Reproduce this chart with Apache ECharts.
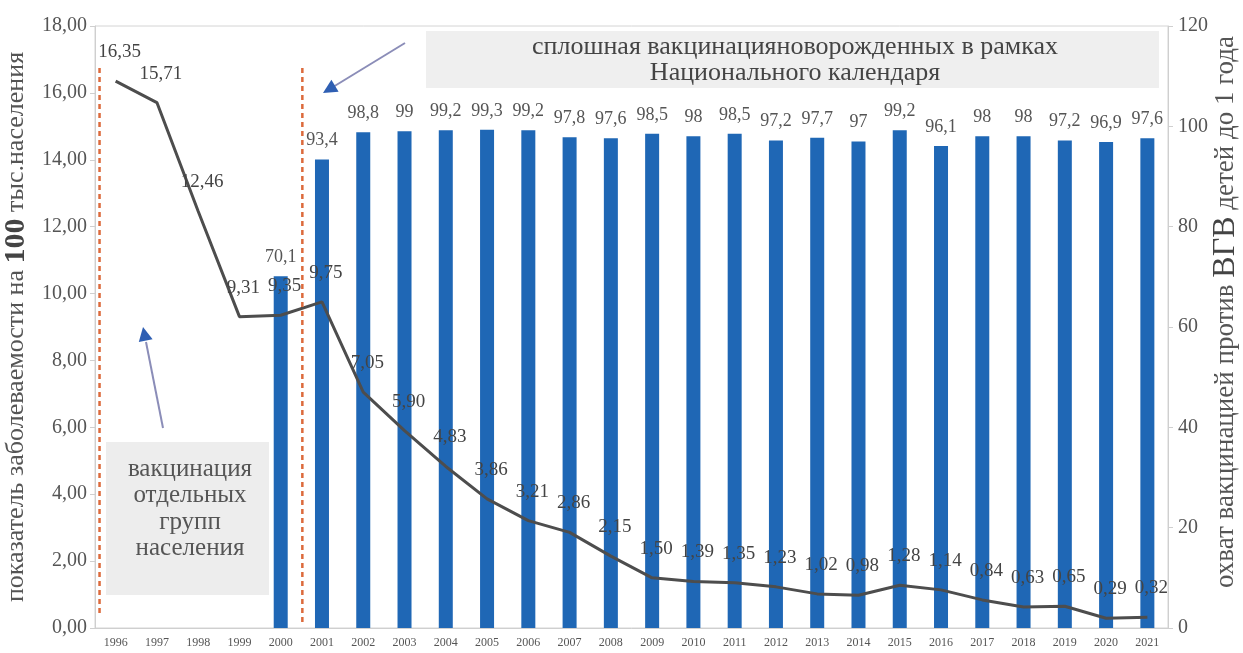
<!DOCTYPE html>
<html>
<head>
<meta charset="utf-8">
<script src="https://cdn.jsdelivr.net/npm/echarts@6/dist/echarts.min.js"></script>
<style>
  html, body { margin: 0; padding: 0; background: #fff; }
  #chart { width: 1243px; height: 653px; }
</style>
</head>
<body>
<div id="chart"></div>
<script>
// Годы наблюдения
const years = ['1996','1997','1998','1999','2000','2001','2002','2003','2004','2005','2006','2007','2008',
  '2009','2010','2011','2012','2013','2014','2015','2016','2017','2018','2019','2020','2021'];

// Заболеваемость на 100 тыс. населения (левая ось)
const incidence = [16.35, 15.71, 12.46, 9.31, 9.35, 9.75, 7.05, 5.90, 4.83, 3.86, 3.21, 2.86, 2.15,
  1.50, 1.39, 1.35, 1.23, 1.02, 0.98, 1.28, 1.14, 0.84, 0.63, 0.65, 0.29, 0.32];

// Охват вакцинацией детей до 1 года, % (правая ось); до 2000 г. данных нет
const coverage = [null, null, null, null, 70.1, 93.4, 98.8, 99, 99.2, 99.3, 99.2, 97.8, 97.6,
  98.5, 98, 98.5, 97.2, 97.7, 97, 99.2, 96.1, 98, 98, 97.2, 96.9, 97.6];

// Деления осей
const leftTicks = { min: 0, max: 18, interval: 2 };
const rightTicks = { min: 0, max: 120, interval: 20 };

const SERIF = '"Liberation Serif", "Times New Roman", serif';
const comma = s => String(s).replace('.', ',');

const chart = echarts.init(document.getElementById('chart'), null, { renderer: 'canvas' });

const option = {
  backgroundColor: '#ffffff',
  animation: false,
  grid: {
    left: 95, right: 75, top: 26, bottom: 25,
    containLabel: false, outerBoundsMode: 'none',
    show: true, borderColor: '#d4d4d4', borderWidth: 1, backgroundColor: 'transparent'
  },
  xAxis: {
    type: 'category',
    data: years,
    boundaryGap: true,
    axisLine: { lineStyle: { color: '#cfcfcf' } },
    axisTick: { show: false },
    axisLabel: { fontFamily: SERIF, fontSize: 12, color: '#555', margin: 9, interval: 0 }
  },
  yAxis: [
    {
      type: 'value',
      min: leftTicks.min, max: leftTicks.max, interval: leftTicks.interval,
      splitLine: { show: false },
      axisLine: { show: true, lineStyle: { color: '#cfcfcf' } },
      axisTick: { show: true, length: 5, lineStyle: { color: '#cfcfcf' } },
      axisLabel: {
        fontFamily: SERIF, fontSize: 20, color: '#555', margin: 8,
        formatter: v => v.toFixed(2).replace('.', ',')
      },
      name: '{a|показатель заболеваемости на }{b|100}{a| тыс.населения}',
      nameLocation: 'middle',
      nameGap: 64,
      nameTextStyle: {
        rich: {
          a: { fontFamily: SERIF, fontSize: 26, color: '#555' },
          b: { fontFamily: SERIF, fontSize: 30, color: '#444', fontWeight: 'bold' }
        }
      }
    },
    {
      type: 'value',
      min: rightTicks.min, max: rightTicks.max, interval: rightTicks.interval,
      splitLine: { show: false },
      axisLine: { show: true, lineStyle: { color: '#cfcfcf' } },
      axisTick: { show: true, length: 5, lineStyle: { color: '#cfcfcf' } },
      axisLabel: { fontFamily: SERIF, fontSize: 20, color: '#555', margin: 10 }
    }
  ],
  series: [
    {
      name: 'охват вакцинацией',
      type: 'bar',
      yAxisIndex: 1,
      data: coverage,
      barWidth: 14,
      itemStyle: { color: '#1f67b5' },
      label: {
        show: true, position: 'top', distance: 10,
        fontFamily: SERIF, fontSize: 18, color: '#555',
        formatter: p => comma(p.value)
      },
      z: 2
    },
    {
      name: 'заболеваемость',
      type: 'line',
      yAxisIndex: 0,
      data: incidence,
      symbol: 'circle',
      symbolSize: 1,
      showSymbol: true,
      itemStyle: { color: 'rgba(0,0,0,0)' },
      lineStyle: { color: '#4d4d4d', width: 3 },
      label: {
        show: true, position: [4.5, -28.5], align: 'center', verticalAlign: 'middle',
        fontFamily: SERIF, fontSize: 19, color: '#444',
        formatter: p => p.value.toFixed(2).replace('.', ',')
      },
      labelLayout: { hideOverlap: false },
      z: 3
    }
  ]
};

chart.setOption(option);

// Пояснительные надписи, подпись правой оси, границы периодов и стрелки
function drawNotes() {
  const x96 = chart.convertToPixel({ xAxisIndex: 0 }, '1996');
  const x97 = chart.convertToPixel({ xAxisIndex: 0 }, '1997');
  const x00 = chart.convertToPixel({ xAxisIndex: 0 }, '2000');
  const x01 = chart.convertToPixel({ xAxisIndex: 0 }, '2001');
  const step = x97 - x96;
  const div1 = x96 - 0.39 * step;
  const div2 = (x00 + x01) / 2 + 1;
  const dashed = { stroke: '#dc6a3c', lineWidth: 2.5, lineDash: [5, 4] };
  const arrowLine = { stroke: '#8b8db8', lineWidth: 2 };
  const arrowHead = { fill: '#2f5fb3' };

  chart.setOption({
    graphic: [
      { type: 'rect', shape: { x: 426, y: 31, width: 733, height: 57 }, style: { fill: '#efefef' }, z: 1 },
      { type: 'text', x: 795, y: 47, style: {
          text: 'сплошная вакцинацияноворожденных в рамках', font: '26px ' + SERIF,
          fill: '#444', align: 'center', verticalAlign: 'middle' }, z: 5 },
      { type: 'text', x: 795, y: 73, style: {
          text: 'Национального календаря', font: '26px ' + SERIF,
          fill: '#444', align: 'center', verticalAlign: 'middle' }, z: 5 },

      { type: 'rect', shape: { x: 106, y: 442, width: 163, height: 153 }, style: { fill: '#ededed' }, z: 1 },
      { type: 'text', x: 190, y: 509, style: {
          text: 'вакцинация\nотдельных\nгрупп\nнаселения', font: '25px ' + SERIF,
          lineHeight: 26.5, fill: '#555', align: 'center', verticalAlign: 'middle' }, z: 5 },

      // подпись правой оси
      { type: 'text', x: 1226, y: 312, rotation: Math.PI / 2, style: {
          text: '{a|охват вакцинацией против }{b|ВГВ}{a| детей до 1 года}',
          align: 'center', verticalAlign: 'middle',
          rich: {
            a: { fontFamily: SERIF, fontSize: 27, fill: '#555' },
            b: { fontFamily: SERIF, fontSize: 32, fill: '#444' }
          } }, z: 5 },

      { type: 'line', shape: { x1: div1, y1: 68, x2: div1, y2: 614 }, style: dashed, z: 6 },
      { type: 'line', shape: { x1: div2, y1: 68, x2: div2, y2: 624 }, style: dashed, z: 6 },

      { type: 'line', shape: { x1: 405, y1: 43, x2: 333, y2: 87 }, style: arrowLine, z: 6 },
      { type: 'polygon', shape: { points: [[323, 93], [338.6, 91.7], [331.4, 79.7]] }, style: arrowHead, z: 6 },
      { type: 'line', shape: { x1: 163, y1: 428, x2: 146, y2: 342 }, style: arrowLine, z: 6 },
      { type: 'polygon', shape: { points: [[143, 327], [152.6, 339.3], [138.8, 342.1]] }, style: arrowHead, z: 6 }
    ]
  });
}
drawNotes();
</script>
</body>
</html>
